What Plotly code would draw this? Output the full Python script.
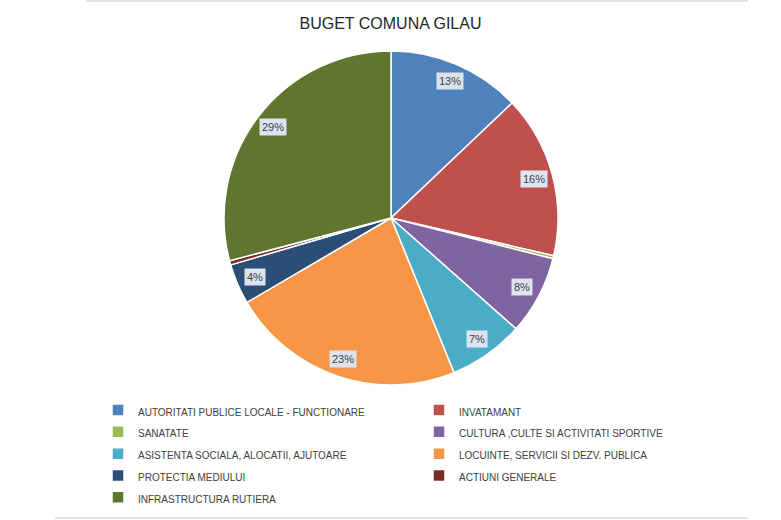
import math
import plotly.graph_objects as go

categories = [
    'AUTORITATI PUBLICE LOCALE - FUNCTIONARE',
    'INVATAMANT',
    'SANATATE',
    'CULTURA ,CULTE SI ACTIVITATI SPORTIVE',
    'ASISTENTA SOCIALA, ALOCATII, AJUTOARE',
    'LOCUINTE, SERVICII SI DEZV. PUBLICA',
    'PROTECTIA MEDIULUI',
    'ACTIUNI GENERALE',
    'INFRASTRUCTURA RUTIERA',
]
shares = [12.9, 15.7, 0.3, 7.6, 7.3, 22.7, 3.9, 0.4, 29.1]
colors = ['#4F81BD', '#C0504D', '#9BBB59', '#8064A2', '#4BACC6',
          '#F79646', '#2C4D75', '#772C2A', '#5F7530']

W, H = 781, 520
# pie placement (pixels)
cx, cy, rad = 391, 218, 167
font_family = 'Liberation Sans, Arial, sans-serif'

# small text inside a bigger legend font, so legend rows get Excel-like spacing
legend_labels = [f'<span style="font-size:10px">{c}</span>' for c in categories]

fig = go.Figure()
fig.add_trace(go.Pie(
    labels=legend_labels, values=shares, sort=False, direction='clockwise',
    rotation=0, marker=dict(colors=colors, line=dict(color='white', width=1.5)),
    textinfo='none', hovertext=categories, hoverinfo='text+percent',
    domain=dict(x=[(cx - rad) / W, (cx + rad) / W],
                y=[(H - cy - rad) / H, (H - cy + rad) / H]),
))

# percentage labels in light boxes, placed at slice mid-angles
total = sum(shares)
cum = 0
for v in shares:
    mid = (cum + v / 2) / total * 2 * math.pi
    cum += v
    pct = round(v / total * 100)
    if pct < 1:
        continue
    r = rad * 0.89
    fig.add_annotation(
        x=(cx + r * math.sin(mid)) / W, y=(H - cy + r * math.cos(mid)) / H,
        xref='paper', yref='paper', xanchor='center', yanchor='middle',
        text=f'{pct}%', showarrow=False,
        font=dict(family=font_family, size=11, color='#404040'),
        bgcolor='#DCE4F0', borderpad=2,
    )

# thin grey frame lines top and bottom
fig.add_shape(type='line', xref='paper', yref='paper', x0=86 / W, x1=748 / W, y0=1 - 1 / H, y1=1 - 1 / H,
              line=dict(color='#D9D9D9', width=1.5))
fig.add_shape(type='line', xref='paper', yref='paper', x0=55 / W, x1=748 / W, y0=2 / H, y1=2 / H,
              line=dict(color='#D9D9D9', width=1.5))

fig.update_layout(
    width=W, height=H,
    margin=dict(l=0, r=0, t=0, b=0),
    paper_bgcolor='white',
    title=dict(text='BUGET COMUNA GILAU', x=0.5, xanchor='center', y=1 - 23 / H, yanchor='middle',
               font=dict(family=font_family, size=16, color='#262626')),
    showlegend=True,
    legend=dict(orientation='h', x=98 / W, xanchor='left', y=1 - 394 / H, yanchor='top',
                entrywidth=276, entrywidthmode='pixels', traceorder='normal',
                bgcolor='rgba(0,0,0,0)',
                font=dict(family=font_family, size=14.5, color='#404040')),
)

fig.write_html('out.html', config={'displayModeBar': False},
               post_script="document.body.style.margin='0px';")
